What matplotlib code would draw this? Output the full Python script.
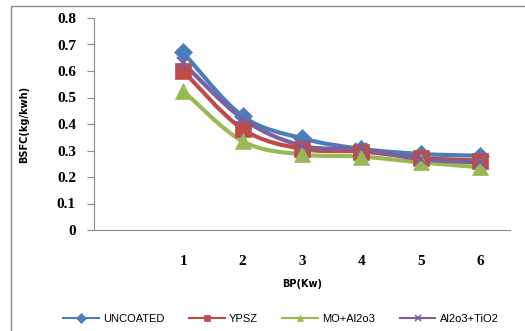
import numpy as np
from matplotlib import pyplot as plt
from matplotlib.path import Path
from matplotlib.patches import PathPatch, Rectangle
from matplotlib.lines import Line2D

bp = [1, 2, 3, 4, 5, 6]
uncoated = [0.67, 0.43, 0.346, 0.306, 0.287, 0.28]
ypsz = [0.60, 0.381, 0.306, 0.296, 0.272, 0.262]
mo_al2o3 = [0.525, 0.335, 0.285, 0.277, 0.255, 0.237]
al2o3_tio2 = [0.63, 0.42, 0.318, 0.305, 0.267, 0.255]

names = ["UNCOATED", "YPSZ", "MO+Al2o3", "Al2o3+TiO2"]
series = [uncoated, ypsz, mo_al2o3, al2o3_tio2]
colors = ["#4A7EBB", "#BE4B48", "#98B954", "#7D60A0"]
markers = ["D", "s", "^", "x"]
msizes = [9, 11, 11, 8]


def smooth_path(x, y):
    # bezier curve through the points, like the spreadsheet "smoothed line"
    pts = np.column_stack([x, y]).astype(float)
    ext = np.vstack([pts[0], pts, pts[-1]])
    verts = [pts[0]]
    codes = [Path.MOVETO]
    for i in range(len(pts) - 1):
        p0, p1, p2, p3 = ext[i], ext[i + 1], ext[i + 2], ext[i + 3]
        c1 = p1 + (p2 - p0) / 6
        c2 = p2 - (p3 - p1) / 6
        verts += [c1, c2, p2]
        codes += [Path.CURVE4] * 3
    return Path(verts, codes)


fig = plt.figure(figsize=(5.25, 3.31), dpi=100)
fig.patches.append(Rectangle((11 / 525, -0.1), 1.2, 1 - 5.5 / 331 + 0.1,
                             transform=fig.transFigure, fill=False,
                             edgecolor="#8c8c8c", linewidth=1.0))
ax = fig.add_axes([94 / 525, 1 - 230 / 331, 416 / 525, 212 / 331])

for vals, c, m, ms in zip(series, colors, markers, msizes):
    ax.add_patch(PathPatch(smooth_path(bp, vals), facecolor="none",
                           edgecolor=c, linewidth=3.0, zorder=2))
    ax.plot(bp, vals, linestyle="none", marker=m, markersize=ms,
            color=c, markeredgewidth=1.5 if m == "x" else 0.5, zorder=3)

ax.set_xlim(-0.5, 6.5)
ax.set_ylim(0, 0.8)
ax.set_yticks(np.arange(0, 0.81, 0.1))
ax.set_yticklabels(["0", "0.1", "0.2", "0.3", "0.4", "0.5", "0.6", "0.7", "0.8"])
ax.set_xticks(bp)
ax.set_xticklabels([str(b) for b in bp])

for s in ["top", "right"]:
    ax.spines[s].set_visible(False)
for s in ["left", "bottom"]:
    ax.spines[s].set_color("#8c8c8c")
ax.tick_params(axis="y", length=5, color="#8c8c8c", pad=8)
ax.tick_params(axis="x", length=0, pad=18)
for lab in ax.get_xticklabels() + ax.get_yticklabels():
    lab.set_fontfamily("Liberation Serif")
    lab.set_fontsize(11)
    lab.set_fontweight("bold")

ax.set_xlabel("BP(Kw)", fontsize=7, fontweight="bold", labelpad=8)
ax.set_ylabel("BSFC(kg/kwh)", fontsize=7, fontweight="bold", labelpad=20)

handles = [Line2D([], [], color=c, marker=m, markersize=5, linewidth=1.5,
                  markeredgewidth=1.2 if m == "x" else 0.5)
           for c, m in zip(colors, markers)]
fig.legend(handles, names, loc="center", bbox_to_anchor=(0.535, 1 - 319 / 331),
           ncol=4, frameon=False, handlelength=3.2, columnspacing=2.2,
           handletextpad=0.4, prop={"family": "Liberation Sans", "size": 8})

fig.savefig("out.png", dpi=100)
